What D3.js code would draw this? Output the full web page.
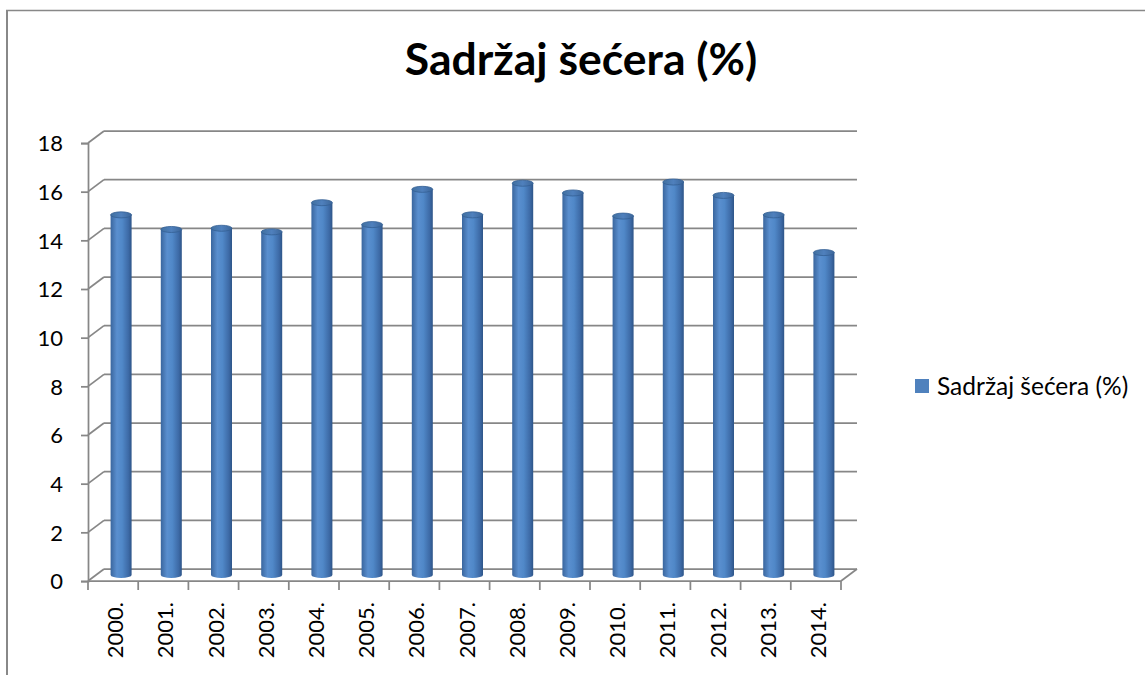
<!DOCTYPE html>
<html>
<head>
<meta charset="utf-8">
<script src="https://cdn.jsdelivr.net/npm/d3@7"></script>
<style>
  html, body { margin: 0; padding: 0; background: #fff; }
  svg { display: block; }
  text { font-family: Lato, "Noto Sans", sans-serif; fill: #000; }
</style>
</head>
<body>
<svg id="chart" width="1145" height="675"></svg>
<script>
const title = "Sadržaj šećera (%)";
const seriesName = "Sadržaj šećera (%)";
const years = ["2000.", "2001.", "2002.", "2003.", "2004.", "2005.", "2006.", "2007.", "2008.", "2009.", "2010.", "2011.", "2012.", "2013.", "2014."];
const values = [14.8, 14.2, 14.25, 14.1, 15.3, 14.4, 15.85, 14.8, 16.1, 15.7, 14.75, 16.15, 15.6, 14.8, 13.25];
const yTicks = [0, 2, 4, 6, 8, 10, 12, 14, 16, 18];

const svg = d3.select("#chart");
const plotLeft = 88, plotRight = 841, plotBottom = 581, plotTop = 143;
const dx = 16, dy = -12;
const gridColor = "#878787";

const x = d3.scaleBand().domain(years).range([plotLeft, plotRight]).padding(0);
const y = d3.scaleLinear().domain([0, 18]).range([plotBottom, plotTop]);

// outer frame
svg.append("line").attr("x1", 6).attr("x2", 1145).attr("y1", 10.5).attr("y2", 10.5)
  .attr("stroke", "#888").attr("stroke-width", 1.5);
svg.append("line").attr("x1", 7).attr("x2", 7).attr("y1", 10).attr("y2", 675)
  .attr("stroke", "#888").attr("stroke-width", 2);

// gradient for cylinders
const defs = svg.append("defs");
const g1 = defs.append("linearGradient").attr("id", "cyl").attr("x1", "0").attr("x2", "1").attr("y1", "0").attr("y2", "0");
[["0%", "#3a669e"], ["30%", "#5a8fcf"], ["55%", "#5088c8"], ["85%", "#3d6aa6"], ["100%", "#2e5588"]]
  .forEach(([o, c]) => g1.append("stop").attr("offset", o).attr("stop-color", c));
const g2 = defs.append("linearGradient").attr("id", "cyltop").attr("x1", "0").attr("x2", "1").attr("y1", "0").attr("y2", "0");
[["0%", "#41709f"], ["50%", "#4f80bd"], ["100%", "#3c6699"]]
  .forEach(([o, c]) => g2.append("stop").attr("offset", o).attr("stop-color", c));

// back-wall gridlines and left-wall diagonals
const grid = svg.append("g");
yTicks.forEach(t => {
  grid.append("line").attr("x1", plotLeft + dx).attr("x2", plotRight + dx)
    .attr("y1", y(t) + dy).attr("y2", y(t) + dy)
    .attr("stroke", gridColor).attr("stroke-width", 1.75);
  grid.append("line").attr("x1", plotLeft).attr("x2", plotLeft + dx)
    .attr("y1", y(t)).attr("y2", y(t) + dy)
    .attr("stroke", gridColor).attr("stroke-width", 1.75);
});
// floor
grid.append("line").attr("x1", plotLeft).attr("x2", plotRight).attr("y1", plotBottom).attr("y2", plotBottom)
  .attr("stroke", gridColor).attr("stroke-width", 1.75);
grid.append("line").attr("x1", plotRight).attr("x2", plotRight + dx).attr("y1", plotBottom).attr("y2", plotBottom + dy)
  .attr("stroke", gridColor).attr("stroke-width", 1.75);

// cylinders
const rx = 10.5, ry = 3;
const bars = svg.append("g").selectAll("g").data(years.map((yr, i) => ({ yr, v: values[i] }))).join("g");
bars.each(function(d) {
  const g = d3.select(this);
  const cx = x(d.yr) + x.bandwidth() / 2 + dx / 2;
  const yb = y(0) + dy / 2;
  const yt = y(d.v) + dy / 2;
  g.append("path")
    .attr("d", `M${cx - rx},${yt} L${cx - rx},${yb} A${rx},${ry} 0 0 0 ${cx + rx},${yb} L${cx + rx},${yt} Z`)
    .attr("fill", "url(#cyl)");
  g.append("ellipse").attr("cx", cx).attr("cy", yt).attr("rx", rx).attr("ry", ry)
    .attr("fill", "url(#cyltop)").attr("stroke", "#345f94").attr("stroke-width", 0.8);
});

// front y axis
const yAxis = d3.axisLeft(y).tickValues(yTicks).tickSize(7).tickPadding(18);
const ya = svg.append("g").attr("transform", `translate(${plotLeft},0)`).call(yAxis);
ya.select(".domain").attr("stroke", gridColor).attr("stroke-width", 1.75);
ya.selectAll(".tick line").attr("stroke", gridColor).attr("stroke-width", 1.75);
ya.selectAll(".tick text").attr("font-size", 22).attr("font-family", "Lato, sans-serif").attr("fill", "#000")
  .attr("dy", "0.36em");

// category boundary ticks
const bounds = d3.range(years.length + 1).map(i => plotLeft + i * x.step());
svg.append("g").selectAll("line").data(bounds).join("line")
  .attr("x1", d => d).attr("x2", d => d).attr("y1", plotBottom).attr("y2", plotBottom + 9)
  .attr("stroke", gridColor).attr("stroke-width", 1.75);

// x labels
const xAxis = d3.axisBottom(x).tickSize(0).tickPadding(0);
const xa = svg.append("g").attr("transform", `translate(0,${plotBottom})`).call(xAxis);
xa.select(".domain").remove();
xa.selectAll(".tick text")
  .attr("font-size", 22).attr("font-family", "Lato, sans-serif").attr("fill", "#000")
  .attr("text-anchor", "end")
  .attr("dy", null)
  .attr("transform", "translate(10,21) rotate(-90)")
  .attr("x", 0).attr("y", 0);

// title
svg.append("text").attr("x", 581).attr("y", 75).attr("text-anchor", "middle")
  .attr("font-size", 44.5).attr("font-weight", "bold").text(title);

// legend
svg.append("rect").attr("x", 915).attr("y", 379).attr("width", 14).attr("height", 14).attr("fill", "#4f81bd");
svg.append("text").attr("x", 937).attr("y", 395).attr("font-size", 24.5).text(seriesName);
</script>
</body>
</html>
